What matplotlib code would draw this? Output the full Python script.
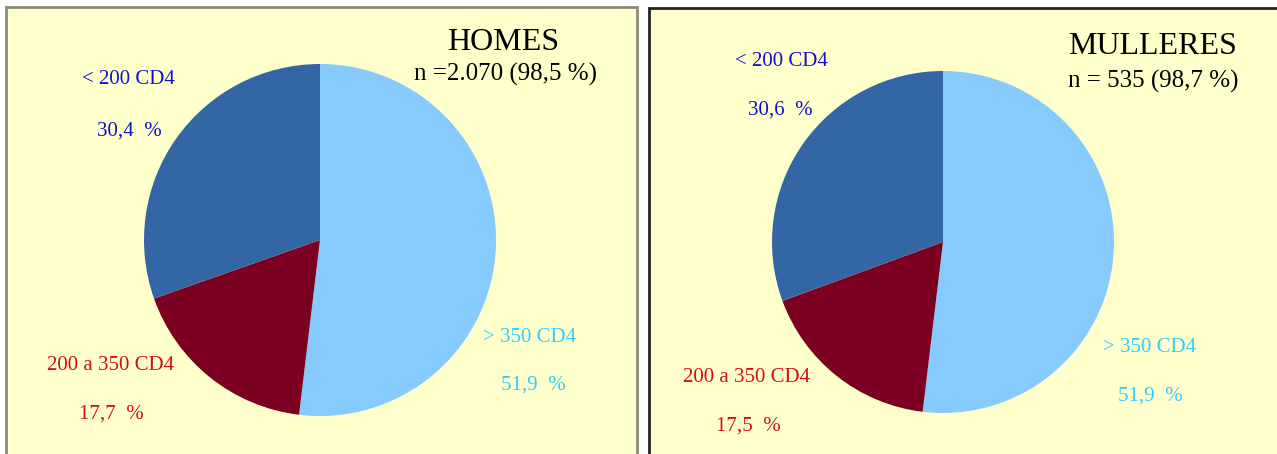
import matplotlib
matplotlib.use('Agg')
import matplotlib.pyplot as plt
from matplotlib.patches import Rectangle

#%% Data

categories = ['> 350 CD4', '200 a 350 CD4', '< 200 CD4']
homes_pct = [51.9, 17.7, 30.4]
mulleres_pct = [51.9, 17.5, 30.6]
titles = ['HOMES', 'MULLERES']
n_labels = ['n =2.070 (98,5 %)', 'n = 535 (98,7 %)']

slice_colors = ['#87CAFE', '#7B0021', '#3465A4']
label_colors = ['#33CCFF', '#D01010', '#1010CC']

W, H = 1277, 454
plt.rcParams['font.family'] = ['Liberation Serif', 'DejaVu Serif']

fig = plt.figure(figsize=(W / 100, H / 100), dpi=100)
fig.patch.set_facecolor('white')


def px(x, y):
    return x / W, 1 - y / H


def fmt(v):
    return f"{v:.1f}".replace('.', ',') + '  %'


#%% Panels: box edges, pie centre/radius and text anchors in pixels
panels = [
    {'x0': 6, 'x1': 637, 'top': 7, 'edge': '#8a8a78', 'pie': (320, 240, 176),
     'title': (503, 42), 'n': (505, 74),
     'lab': [(530, 338), (111, 366), (128, 80)], 'pct': [(533, 385), (111, 414), (129, 131)]},
    {'x0': 649, 'x1': 1290, 'top': 8, 'edge': '#222222', 'pie': (943, 242, 171),
     'title': (1153, 47), 'n': (1153, 81),
     'lab': [(1150, 347), (747, 378), (781, 61)], 'pct': [(1150, 396), (748, 426), (780, 110)]},
]

for i, (p, values) in enumerate(zip(panels, [homes_pct, mulleres_pct])):
    x0, y0 = px(p['x0'], p['top'])
    bg = Rectangle((x0, -0.05), (p['x1'] - p['x0']) / W, y0 + 0.05, transform=fig.transFigure,
                   facecolor='#FFFFCC', edgecolor=p['edge'], linewidth=2, zorder=-1)
    fig.patches.append(bg)

    cx, cy, r = p['pie']
    ax = fig.add_axes([(cx - r) / W, (H - cy - r) / H, 2 * r / W, 2 * r / H])
    ax.pie(values, colors=slice_colors, startangle=90, counterclock=False,
           wedgeprops={'linewidth': 0})
    ax.set_xlim(-1, 1)
    ax.set_ylim(-1, 1)
    ax.axis('off')

    fig.text(*px(*p['title']), titles[i], fontsize=23, ha='center', va='center', color='black')
    fig.text(*px(*p['n']), n_labels[i], fontsize=18, ha='center', va='center', color='black')
    for j, cat in enumerate(categories):
        fig.text(*px(*p['lab'][j]), cat, fontsize=15, ha='center', va='center', color=label_colors[j])
        fig.text(*px(*p['pct'][j]), fmt(values[j]), fontsize=15, ha='center', va='center', color=label_colors[j])

fig.savefig('out.png', dpi=100)
